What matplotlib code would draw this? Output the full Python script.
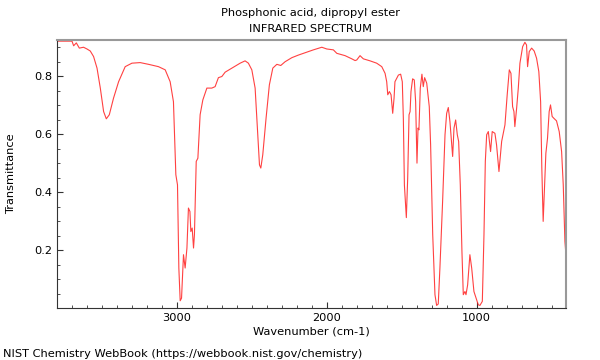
import matplotlib
matplotlib.use('Agg')
import matplotlib.pyplot as plt
from matplotlib.ticker import MultipleLocator

# IR spectrum (wavenumber cm-1, transmittance)
wavenumber = [
    3800, 3700, 3689, 3671, 3651, 3623, 3600, 3578, 3556, 3533, 3511, 3489,
    3471, 3451, 3423, 3389, 3345, 3300, 3245, 3189, 3123, 3078, 3045, 3023,
    3007, 2996, 2987, 2978, 2969, 2956, 2945, 2933, 2923, 2913, 2907, 2898,
    2889, 2883, 2871, 2860, 2845, 2827, 2800, 2767, 2745, 2723, 2700, 2678,
    2633, 2578, 2545, 2523, 2500, 2478, 2463, 2449, 2440, 2427, 2405, 2383,
    2360, 2333, 2307, 2278, 2233, 2189, 2156, 2089, 2033, 2000, 1956, 1933,
    1878, 1833, 1811, 1800, 1778, 1756, 1711, 1667, 1633, 1611, 1600, 1593,
    1582, 1571, 1560, 1551, 1545, 1522, 1507, 1496, 1489, 1482, 1469, 1460,
    1451, 1444, 1438, 1427, 1416, 1407, 1398, 1391, 1385, 1376, 1365, 1356,
    1347, 1333, 1316, 1307, 1293, 1278, 1267, 1256, 1245, 1227, 1211, 1200,
    1189, 1178, 1171, 1160, 1151, 1140, 1129, 1120, 1109, 1098, 1089, 1078,
    1071, 1060, 1045, 1033, 1018, 1000, 989, 978, 962, 951, 942, 933,
    922, 907, 896, 878, 867, 851, 833, 822, 811, 796, 782, 771,
    760, 751, 745, 733, 722, 711, 693, 678, 667, 660, 649, 633,
    616, 600, 585, 573, 565, 556, 545, 538, 527, 516, 507, 496,
    485, 467, 449, 433, 422, 411, 405,
]
transmittance = [
    0.921, 0.921, 0.905, 0.915, 0.897, 0.900, 0.894, 0.887, 0.868, 0.828, 0.759, 0.678,
    0.653, 0.667, 0.724, 0.781, 0.833, 0.845, 0.847, 0.841, 0.833, 0.822, 0.781, 0.712,
    0.460, 0.425, 0.138, 0.025, 0.034, 0.184, 0.138, 0.207, 0.345, 0.333, 0.264, 0.276,
    0.207, 0.253, 0.506, 0.517, 0.667, 0.718, 0.759, 0.759, 0.764, 0.795, 0.799, 0.814,
    0.828, 0.845, 0.853, 0.845, 0.822, 0.759, 0.621, 0.494, 0.483, 0.529, 0.655, 0.770,
    0.828, 0.841, 0.837, 0.850, 0.864, 0.873, 0.879, 0.891, 0.900, 0.894, 0.891, 0.879,
    0.871, 0.860, 0.854, 0.856, 0.871, 0.860, 0.853, 0.845, 0.833, 0.810, 0.781, 0.736,
    0.747, 0.736, 0.672, 0.724, 0.781, 0.804, 0.807, 0.781, 0.655, 0.425, 0.312, 0.448,
    0.667, 0.678, 0.747, 0.791, 0.787, 0.712, 0.500, 0.621, 0.615, 0.759, 0.807, 0.764,
    0.795, 0.776, 0.695, 0.563, 0.253, 0.046, 0.009, 0.014, 0.138, 0.368, 0.598, 0.672,
    0.692, 0.643, 0.598, 0.523, 0.621, 0.649, 0.598, 0.575, 0.425, 0.195, 0.046, 0.057,
    0.046, 0.080, 0.184, 0.138, 0.057, 0.029, 0.011, 0.009, 0.023, 0.253, 0.506, 0.598,
    0.609, 0.540, 0.609, 0.603, 0.563, 0.471, 0.575, 0.603, 0.632, 0.736, 0.822, 0.810,
    0.695, 0.678, 0.626, 0.690, 0.759, 0.845, 0.902, 0.917, 0.908, 0.833, 0.885, 0.897,
    0.887, 0.862, 0.816, 0.712, 0.483, 0.299, 0.448, 0.534, 0.586, 0.678, 0.701, 0.661,
    0.655, 0.646, 0.609, 0.540, 0.425, 0.230, 0.190,
]

fig = plt.figure(figsize=(6, 3.6), dpi=100)
ax = fig.add_axes([0.095, 0.1444, 0.848, 0.7445])

ax.plot(wavenumber, transmittance, color='#ff2020', lw=0.8, alpha=0.85)

ax.set_xlim(3800, 405)
ax.set_ylim(0, 0.925)
ax.xaxis.set_major_locator(MultipleLocator(1000))
ax.xaxis.set_minor_locator(MultipleLocator(100))
ax.yaxis.set_minor_locator(MultipleLocator(0.05))
ax.set_yticks([0.2, 0.4, 0.6, 0.8])

ax.tick_params(which='both', direction='in', labelsize=8.2, color='#333333',
               top=False, right=False)
ax.tick_params(which='major', length=4)
ax.tick_params(which='minor', length=2)

for side in ['left', 'bottom']:
    ax.spines[side].set_color('#333333')
for side in ['top', 'right']:
    ax.spines[side].set_color('#999999')
    ax.spines[side].set_linewidth(1.5)

ax.set_xlabel('Wavenumber (cm-1)', fontsize=8.2, labelpad=2.5)
ax.set_ylabel('Transmittance', fontsize=8.2)
ax.yaxis.set_label_coords(-0.08, 0.5)
fig.text(0.518, 0.965, 'Phosphonic acid, dipropyl ester', ha='center', va='center', fontsize=8.2)
fig.text(0.518, 0.92, 'INFRARED SPECTRUM', ha='center', va='center', fontsize=8.2)
fig.text(0.005, 0.018, 'NIST Chemistry WebBook (https://webbook.nist.gov/chemistry)',
         ha='left', va='center', fontsize=8.2)

plt.savefig('out.png', dpi=100, facecolor='white')
plt.close()
